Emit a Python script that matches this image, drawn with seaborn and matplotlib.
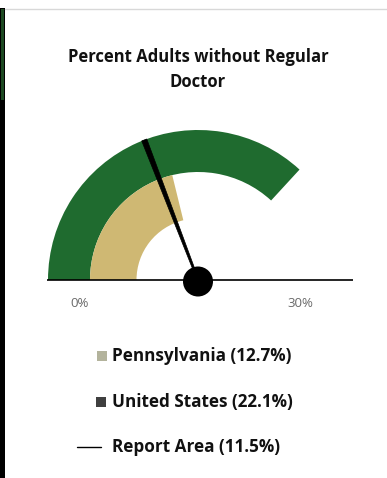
import numpy as np
import matplotlib
matplotlib.use("Agg")
import matplotlib.pyplot as plt
from matplotlib.patches import Wedge, Circle, Polygon, Rectangle
from matplotlib.lines import Line2D
import seaborn as sns

# Gauge data
scale_labels = ["0%", "30%"]
scale_max = 30.0
region_names = ["Pennsylvania", "United States", "Report Area"]
region_values = [12.7, 22.1, 11.5]

title_text = "Percent Adults without Regular\nDoctor"

sns.set_theme(style="white")
plt.rcParams["font.family"] = ["Open Sans", "DejaVu Sans"]

GREEN = "#1f6b2f"
TAN = "#cfb873"
PA_SWATCH = "#b3b39c"
US_SWATCH = "#3f3f3f"

W, H = 387, 478
fig = plt.figure(figsize=(W / 100, H / 100), dpi=100)
fig.patch.set_facecolor("white")

# Axes spanning the whole figure; gauge radius of 150 px = 1 unit
cx_px, cy_px, r_px = 198, 280, 150
ax = fig.add_axes([0, 0, 1, 1])
ax.set_xlim((0 - cx_px) / r_px, (W - cx_px) / r_px)
ax.set_ylim((cy_px - H) / r_px, cy_px / r_px)
ax.axis("off")


def angle(v):
    return 180.0 - v / scale_max * 180.0


pa, us, area = region_values

# United States band (outer) and Pennsylvania band (inner)
ax.add_patch(Wedge((0, 0), 1.0, angle(us), 180, width=0.28,
                   facecolor=GREEN, edgecolor="none"))
ax.add_patch(Wedge((0, 0), 0.72, angle(pa), 180, width=0.31,
                   facecolor=TAN, edgecolor="none"))

# Baseline
ax.hlines(0, -1.01, 1.03, color="black", linewidth=1.2)

# Needle for the report area, tapering toward the hub
th = np.deg2rad(angle(area))
d = np.array([np.cos(th), np.sin(th)])
n = np.array([-d[1], d[0]])
tip = 1.0 * d
base_w, tip_w = 0.006, 0.018
needle = Polygon([base_w * n, tip + tip_w * n, tip - tip_w * n, -base_w * n],
                 closed=True, facecolor="black", edgecolor="black", linewidth=0.5)
ax.add_patch(needle)
ax.add_patch(Circle((0, -0.01), 0.1, facecolor="black", edgecolor="none", zorder=5))

# Scale labels
ax.text(-0.787, -0.155, scale_labels[0], ha="center", va="center",
        fontsize=9.5, color="#6a6a6a")
ax.text(0.68, -0.155, scale_labels[1], ha="center", va="center",
        fontsize=9.5, color="#6a6a6a")

# Title
fig.text(198 / W, 1 - 69.5 / H, title_text, ha="center", va="center",
         fontsize=12, fontweight="bold", color="#111111", linespacing=1.45)

# Legend
leg_y = [356, 402, 447]
text_x = 112
for name, val, y in zip(region_names, region_values, leg_y):
    fig.text(text_x / W, 1 - y / H, f"{name} ({val}%)", ha="left", va="center",
             fontsize=12.3, fontweight="bold", color="#111111")

fig.add_artist(Rectangle((97 / W, 1 - 361 / H), 10 / W, 10 / H,
                         transform=fig.transFigure, facecolor=PA_SWATCH, edgecolor="none"))
fig.add_artist(Rectangle((96 / W, 1 - 407 / H), 10 / W, 10 / H,
                         transform=fig.transFigure, facecolor=US_SWATCH, edgecolor="none"))
fig.add_artist(Line2D([77 / W, 101 / W], [1 - 447 / H, 1 - 447 / H],
                      transform=fig.transFigure, color="black", linewidth=1.0))

# Frame edges
fig.add_artist(Line2D([5 / W, 1], [1 - 9 / H, 1 - 9 / H], transform=fig.transFigure,
                      color="#d8d8d8", linewidth=1.0))
fig.add_artist(Rectangle((0, 0), 5 / W, 1 - 8 / H, transform=fig.transFigure,
                         facecolor="black", edgecolor="none"))
fig.add_artist(Rectangle((1 / W, 1 - 100 / H), 3 / W, 91 / H, transform=fig.transFigure,
                         facecolor="#1d4a22", edgecolor="none"))

fig.savefig("out.png", dpi=100)
